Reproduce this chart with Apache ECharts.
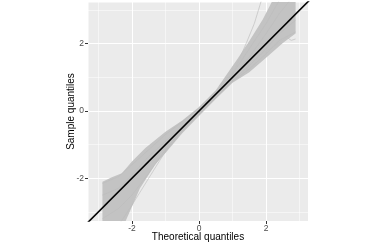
<!DOCTYPE html>
<html><head><meta charset="utf-8">
<script src="https://cdn.jsdelivr.net/npm/echarts@6/dist/echarts.min.js"></script>
<style>html,body{margin:0;padding:0;background:#fff}#c{width:374px;height:247px}</style>
</head><body><div id="c"></div>
<script>
// axis ranges and ticks
const xRange = [-3.31, 3.25];
const yRange = [-3.27, 3.24];
const xTicks = [-2, 0, 2];
const yTicks = [-2, 0, 2];

// envelope of the simulated QQ lines
const bandUpperX = [-2.88, -2.6, -2.3, -2.0, -1.6, -1.0, -0.5, 0, 0.5, 0.85, 1.15, 1.5, 1.9, 2.2, 2.4, 2.88];
const bandUpperY = [-2.1, -1.97, -1.85, -1.5, -1.1, -0.62, -0.28, 0.12, 0.62, 1.12, 1.55, 2.08, 2.72, 3.3, 3.7, 3.7];
const bandLowerX = [2.88, 2.5, 2.0, 1.5, 1.0, 0.5, 0, -0.5, -1.0, -1.3, -1.76, -2.2, -2.5, -2.88];
const bandLowerY = [2.3, 2.02, 1.58, 1.15, 0.84, 0.36, -0.15, -0.66, -1.25, -1.58, -2.3, -3.3, -3.75, -4.1];

// some individual simulated lines
const lineX = [-2.88, -2.4, -2, -1.5, -1, -0.5, 0, 0.5, 1, 1.5, 2, 2.4, 2.88];
const simA = [-2.5, -2.3, -1.9, -1.35, -0.9, -0.45, 0.02, 0.5, 1.02, 1.6, 2.3, 2.9, 3.5];
const simB = [-3.2, -2.9, -2.5, -1.85, -1.15, -0.55, -0.05, 0.42, 0.9, 1.35, 1.85, 2.3, 2.7];
const simC = [-2.15, -1.95, -1.6, -1.15, -0.7, -0.32, 0.08, 0.58, 1.1, 1.85, 2.6, 3.3, 3.8];
const simD = [-3.8, -3.4, -2.8, -2.0, -1.2, -0.6, -0.1, 0.4, 0.88, 1.25, 1.7, 2.1, 2.35];
// stray lines
const strayUpX = [0.6, 1.03, 1.42, 1.65, 1.87, 1.95];
const strayUpY = [0.75, 1.15, 2.04, 2.6, 3.32, 3.6];
const strayLowX = [1.8, 2.2, 2.62, 2.75, 2.88];
const strayLowY = [1.65, 1.9, 2.19, 2.1, 2.14];

// reference line y = x
const refX = [-3.6, 3.6];
const refSlope = 1, refIntercept = 0;

const zip = (xs, ys) => xs.map((x, i) => [x, ys[i]]);
const bandPts = zip(bandUpperX, bandUpperY).concat(zip(bandLowerX, bandLowerY));
const simSeries = [simA, simB, simC, simD].map(ys => zip(lineX, ys));
const strays = [zip(strayUpX, strayUpY), zip(strayLowX, strayLowY)];

const chart = echarts.init(document.getElementById('c'), null, {renderer: 'canvas'});
const font = '"Liberation Sans", Arial, sans-serif';
const lineSer = (d, w, c) => ({
  type: 'line', data: d, symbol: 'none', silent: true, z: 3,
  lineStyle: {width: w, color: c}, clip: true
});
chart.setOption({
  animation: false,
  grid: {left: 88, top: 2, width: 220, height: 221, show: true, backgroundColor: '#EBEBEB', borderWidth: 0},
  xAxis: [{
    type: 'value', min: xRange[0], max: xRange[1], minInterval: 2, maxInterval: 2,
    name: 'Theoretical quantiles', nameLocation: 'middle', nameGap: 11, nameMoveOverlap: false,
    nameTextStyle: {fontFamily: font, fontSize: 10, color: '#000'},
    axisLine: {show: false, onZero: false},
    axisTick: {show: true, length: 3, lineStyle: {color: '#333', width: 1}, customValues: xTicks},
    axisLabel: {fontFamily: font, fontSize: 8.5, color: '#4D4D4D', margin: 3, customValues: xTicks,
      formatter: v => String(v)},
    splitLine: {show: true, lineStyle: {color: '#fff', width: 1.1}}
  }, {
    type: 'value', min: xRange[0], max: xRange[1], minInterval: 1, maxInterval: 1, position: 'bottom',
    axisLine: {show: false, onZero: false}, axisTick: {show: false}, axisLabel: {show: false},
    splitLine: {show: true, lineStyle: {color: '#fff', width: 0.5}}
  }],
  yAxis: [{
    type: 'value', min: yRange[0], max: yRange[1], minInterval: 2, maxInterval: 2,
    name: 'Sample quantiles', nameLocation: 'middle', nameGap: 12, nameMoveOverlap: false,
    nameTextStyle: {fontFamily: font, fontSize: 10, color: '#000'},
    axisLine: {show: false, onZero: false},
    axisTick: {show: true, length: 3, lineStyle: {color: '#333', width: 1}, customValues: yTicks},
    axisLabel: {fontFamily: font, fontSize: 8.5, color: '#4D4D4D', margin: 4, customValues: yTicks,
      formatter: v => String(v)},
    splitLine: {show: true, lineStyle: {color: '#fff', width: 1.1}}
  }, {
    type: 'value', min: yRange[0], max: yRange[1], minInterval: 1, maxInterval: 1, position: 'left',
    axisLine: {show: false, onZero: false}, axisTick: {show: false}, axisLabel: {show: false},
    splitLine: {show: true, lineStyle: {color: '#fff', width: 0.5}}
  }],
  series: [
    {
      type: 'custom', coordinateSystem: 'cartesian2d', clip: true, silent: true, z: 2,
      data: bandPts, encode: {x: 0, y: 1},
      renderItem(params, api) {
        if (params.dataIndex !== 0) return null;
        return {type: 'polygon', shape: {points: bandPts.map(p => api.coord(p))},
                style: {fill: '#c3c3c3'}};
      }
    },
    ...simSeries.map(d => lineSer(d, 0.6, '#bcbcbc')),
    ...strays.map(d => lineSer(d, 0.7, '#c0c0c0')),
    {
      type: 'line', symbol: 'none', silent: true, z: 5, clip: true,
      data: refX.map(x => [x, refSlope * x + refIntercept]),
      lineStyle: {width: 1.6, color: '#000'}
    }
  ]
});
</script></body></html>
